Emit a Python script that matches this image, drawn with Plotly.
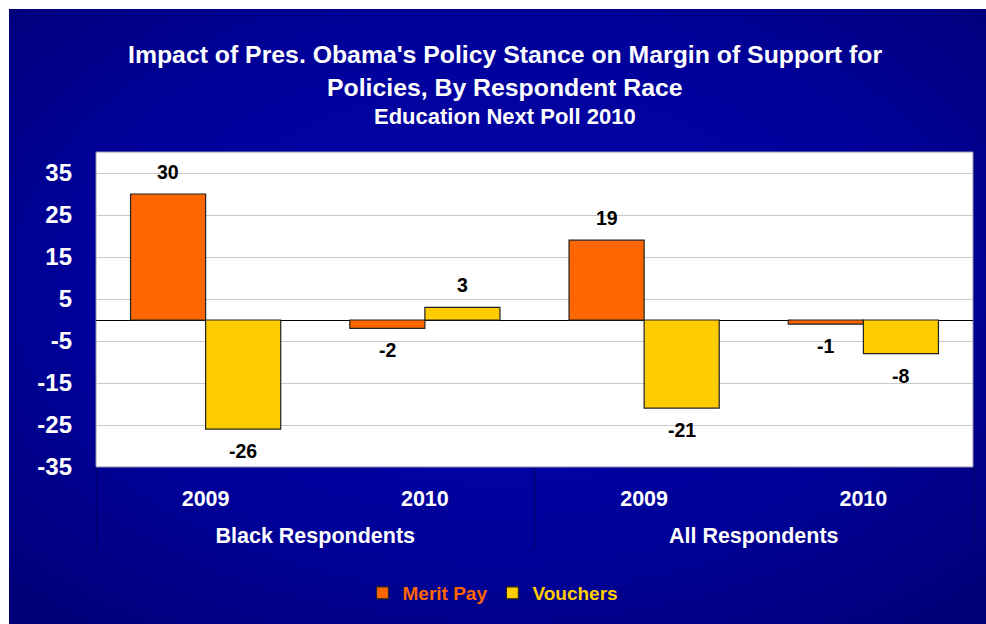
import base64
import plotly.graph_objects as go

groups = ["Black Respondents", "Black Respondents", "All Respondents", "All Respondents"]
years = ["2009", "2010", "2009", "2010"]
merit_pay = [30, -2, 19, -1]
vouchers = [-26, 3, -21, -8]
y_ticks = [35, 25, 15, 5, -5, -15, -25, -35]

title_1 = "Impact of Pres. Obama's Policy Stance on Margin of Support for"
title_2 = "Policies, By Respondent Race"
title_3 = "Education Next Poll 2010"

ORANGE = "#FF6600"
YELLOW = "#FFCC00"
NAVY = "#00008E"
FONT = "Liberation Sans, Arial, sans-serif"
BARGAP = 0.315

# second-level labels pushed down one line, like the source layout
group_labels = ["<br>" + g for g in groups]

fig = go.Figure()
series = [("Merit Pay", merit_pay, ORANGE), ("Vouchers", vouchers, YELLOW)]
for name, vals, col in series:
    fig.add_trace(go.Bar(
        x=[group_labels, years], y=vals,
        name=f"<span style='color:{col}'>{name}</span>",
        marker=dict(color=col, line=dict(color="#222222", width=1.2)),
        cliponaxis=False,
    ))

# data labels, offset from the bar ends
half = (1 - BARGAP) / 2
for k, (name, vals, col) in enumerate(series):
    off = -half / 2 if k == 0 else half / 2
    for i, v in enumerate(vals):
        fig.add_annotation(x=i + off, y=v, xref="x", yref="y", text=str(v),
                           showarrow=False, yshift=22 if v > 0 else -22,
                           font=dict(family=FONT, size=19.5, color="black", weight="bold"))

svg = (
    "<svg xmlns='http://www.w3.org/2000/svg' width='986' height='624'>"
    "<defs><radialGradient id='g' cx='50%' cy='45%' r='70%'>"
    "<stop offset='0%' stop-color='#0606AE'/>"
    "<stop offset='60%' stop-color='#00009A'/>"
    "<stop offset='100%' stop-color='#00007A'/>"
    "</radialGradient></defs>"
    "<rect width='986' height='624' fill='url(#g)'/></svg>"
)
svg_uri = "data:image/svg+xml;base64," + base64.b64encode(svg.encode()).decode()

fig.update_layout(
    width=986, height=624,
    margin=dict(l=96, r=13, t=152, b=157, autoexpand=False),
    paper_bgcolor=NAVY, plot_bgcolor="white",
    barmode="group", bargap=BARGAP, bargroupgap=0,
    font=dict(family=FONT, color="white"),
    showlegend=True,
    legend=dict(orientation="h", x=0.5, xanchor="center", xref="container",
                y=1 - 593 / 624, yref="container", yanchor="middle",
                font=dict(family=FONT, size=19, weight="bold"),
                bgcolor="rgba(0,0,0,0)", itemwidth=30),
    xaxis=dict(type="multicategory", showgrid=False, zeroline=False, automargin=False,
               tickfont=dict(family=FONT, size=21.5, weight="bold", color="white"),
               showdividers=True, dividercolor="#000060", dividerwidth=1,
               ticklabelstandoff=16),
    yaxis=dict(range=[-35, 40], tickvals=y_ticks, ticktext=[str(t) for t in y_ticks],
               showgrid=True, gridcolor="#C8C8C8", gridwidth=1, automargin=False,
               zeroline=True, zerolinecolor="black", zerolinewidth=1,
               tickfont=dict(family=FONT, size=24, weight="bold", color="white"),
               ticks="", ticklabelstandoff=23),
    images=[dict(source=svg_uri, xref="paper", yref="paper",
                 x=(9 - 96) / 877, y=(467 - 9) / 315,
                 sizex=(986 - 9) / 877, sizey=(624 - 9) / 315,
                 sizing="stretch", xanchor="left", yanchor="top", layer="below")],
)

# white plot area on top of background image
fig.add_shape(type="rect", xref="paper", yref="paper", x0=0, x1=1, y0=0, y1=1,
              fillcolor="white", line=dict(color="#9090B0", width=1), layer="below")
# white outer border strips (top and left) like the source image
fig.add_shape(type="rect", xref="paper", yref="paper",
              x0=-96/877 - 0.01, x1=(986-96)/877 + 0.01, y0=(467-9)/315, y1=467/315 + 0.01,
              fillcolor="white", line_width=0, layer="below")
fig.add_shape(type="rect", xref="paper", yref="paper",
              x0=-96/877 - 0.01, x1=(9-96)/877, y0=-157/315 - 0.01, y1=467/315 + 0.01,
              fillcolor="white", line_width=0, layer="below")

for txt, ypx, size in [(title_1, 54, 24.8), (title_2, 87, 24.8), (title_3, 117, 22)]:
    fig.add_annotation(text=txt, xref="paper", yref="paper",
                       x=(505-96)/877, y=(467-ypx)/315, showarrow=False,
                       xanchor="center", yanchor="middle",
                       font=dict(family=FONT, size=size, color="white", weight="bold"))

fig.write_html("out.html")
